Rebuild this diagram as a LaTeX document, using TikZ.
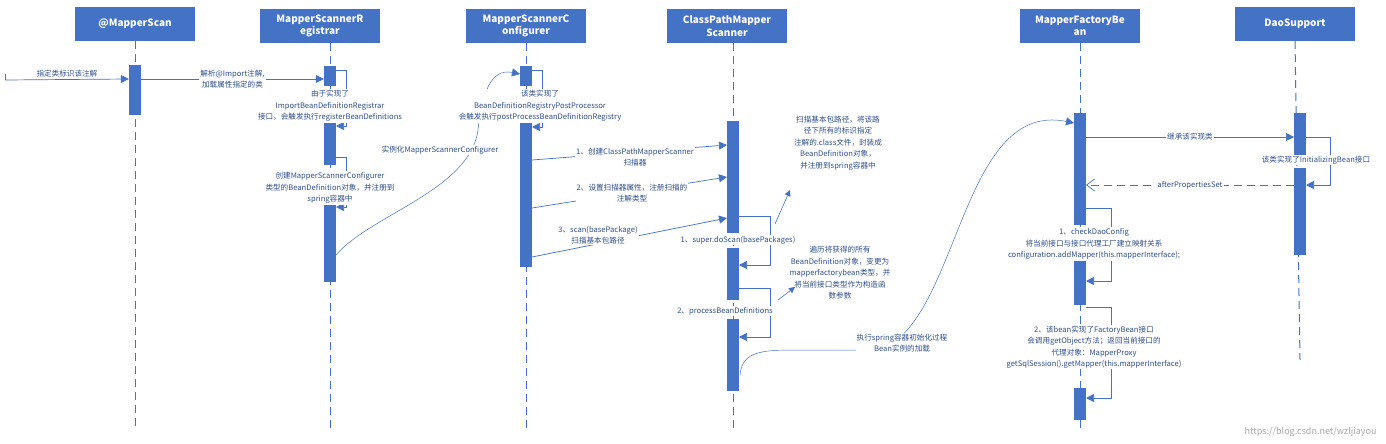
\documentclass[tikz,border=0pt]{standalone}
\usepackage{fontspec}
\setmainfont{Noto Sans CJK SC}
\usetikzlibrary{arrows.meta,positioning}
\definecolor{hdblue}{HTML}{4472C4}
\definecolor{txblue}{HTML}{2E4E8C}
\tikzset{
  head/.style={fill=hdblue,text=white,font=\fontsize{10}{12.5}\selectfont\bfseries,
    minimum width=120pt,minimum height=34pt,align=center,inner sep=1pt},
  life/.style={hdblue,dash pattern=on 8pt off 5pt,line width=1pt},
  act/.style={fill=hdblue,draw=none,minimum width=12pt,inner sep=0pt,anchor=north},
  msg/.style={hdblue,line width=0.7pt,-{Triangle[length=8pt,width=8pt]}},
  ret/.style={hdblue,line width=0.7pt,dash pattern=on 8pt off 5pt,-{Straight Barb[length=8pt,width=12pt]}},
  lbl/.style={text=txblue,font=\fontsize{7.6}{11.5}\selectfont,align=center,inner sep=1pt},
  bglbl/.style={lbl,fill=white},
  nt/.style={hdblue,line width=0.6pt,-{Triangle[length=6pt,width=6pt]}}
}
\begin{document}
\begin{tikzpicture}[x=1pt,y=-1pt]
\useasboundingbox (0,0) rectangle (1386,444);

% headers and lifelines
\node[head] (hscan) at (135,24) {@MapperScan};
\node[head] (hreg) at (320,26) {MapperScannerR\\egistrar};
\node[head] (hconf) at (526,26) {MapperScannerC\\onfigurer};
\node[head] (hcp) at (727,26) {ClassPathMapper\\Scanner};
\node[head] (hmfb) at (1080,26) {MapperFactoryBe\\an};
\node[head] (hdao) at (1295,24) {DaoSupport};
\draw[life] (hscan.south) -- (135,430);
\draw[life] (hreg.south -| 330,0) -- (330,430);
\draw[life] (hconf.south -| 526,0) -- (526,430);
\draw[life] (hcp.south -| 733,0) -- (733,430);
\draw[life] (hmfb.south -| 1080,0) -- (1080,430);
\draw[life] (hdao.south) -- (1300,360);

% activation bars
\node[act,minimum height=50pt] (a1) at (135,65) {};
\node[act,minimum height=20pt] (r1) at (330,66) {};
\node[act,minimum height=50pt] (r2) at (330,115) {};
\node[act,minimum height=85pt] (r3) at (330,197) {};
\node[act,minimum height=20pt] (c1) at (526,66) {};
\node[act,minimum height=152pt] (c2) at (526,115) {};
\node[act,minimum height=112pt] (s1) at (733,121) {};
\node[act,minimum height=52pt] (s2) at (733,248) {};
\node[act,minimum height=72pt] (s3) at (733,319) {};
\node[act,minimum height=112pt] (m1) at (1080,113) {};
\node[act,minimum height=58pt] (m2) at (1080,247) {};
\node[act,minimum height=32pt] (m3) at (1080,388) {};
\node[act,minimum height=42pt] (d1) at (1300,113) {};
\node[act,minimum height=87pt] (d2) at (1300,168) {};

% @MapperScan
\coordinate (start) at (5,80);
\draw[hdblue,line width=0.7pt] (5,74) -- (start);
\draw[msg] (start) -- node[lbl,above=1pt] {指定类标识该注解} (a1.north west |- 0,79);
\draw[msg] (a1.north east |- 0,79) -- node[bglbl] {解析@Import注解,\\加载属性指定的类} (r1.west |- 0,79);

% Registrar
\draw[msg] (336,70) -- (346,70) -- (346,126) -- (336,126);
\node[bglbl] (t1) at (330,106) {由于实现了\\ImportBeanDefinitionRegistrar\\接口，会触发执行registerBeanDefinitions};
\draw[msg] (336,157) -- (346,157) -- (346,207) -- (336,207);
\node[bglbl] (t2) at (330,188) {创建MapperScannerConfigurer\\类型的BeanDefinition对象，并注册到\\spring容器中};
\draw[hdblue,line width=0.5pt,-{Triangle[length=8pt,width=8pt]}] (336,255) .. controls (370,215) and (470,190) .. (478,130)
  .. controls (482,95) and (490,68) .. (520,74);
\node[bglbl] (t3) at (440,150) {实例化MapperScannerConfigurer};

% Configurer
\draw[msg] (532,70) -- (542,70) -- (542,127) -- (532,127);
\node[bglbl] (t4) at (540,106) {该类实现了\\BeanDefinitionRegistryPostProcessor\\会触发执行postProcessBeanDefinitionRegistry};
\draw[msg] (532,160) -- (727,145);
\node[bglbl] (t5) at (635,157) {1、创建ClassPathMapperScanner\\扫描器};
\draw[msg] (532,208) -- (727,177);
\node[bglbl] (t6) at (632,193) {2、设置扫描器属性，注册扫描的\\注解类型};
\draw[msg] (532,257) -- (727,218);
\node[bglbl] (t7) at (598,235) {3、scan(basePackage)\\扫描基本包路径};

% ClassPathMapperScanner
\draw[msg] (739,216) -- (770,216) -- (770,265) -- (739,265);
\node[bglbl] (t8) at (738,240) {1、super.doScan(basePackages)};
\draw[msg] (739,288) -- (770,288) -- (770,337) -- (739,337);
\node[bglbl] (t9) at (725,311) {2、processBeanDefinitions};
\node[lbl] (n1) at (838,143) {扫描基本包路径，将该路\\径下所有的标识指定\\注解的.class文件，封装成\\BeanDefinition对象，\\并注册到spring容器中};
\draw[nt] (775,224) -- (790,190);
\node[lbl] (n2) at (840,273) {遍历将获得的所有\\BeanDefinition对象，变更为\\mapperfactorybean类型，并\\将当前接口类型作为构造函\\数参数};
\draw[nt] (778,300) -- (795,287);
\draw[hdblue,line width=0.5pt,-{Triangle[length=8pt,width=8pt]}] (740,375) .. controls (742,355) and (755,350) .. (790,350)
  -- (880,350) .. controls (960,320) and (960,100) .. (1074,123);
\node[bglbl] (t10) at (902,343) {执行spring容器初始化过程\\Bean实例的加载};

% MapperFactoryBean / DaoSupport
\draw[msg] (1086,137) -- node[bglbl] {继承该实现类} (1294,137);
\draw[msg] (1306,137) -- (1330,137) -- (1330,185) -- (1306,185);
\node[bglbl] (t11) at (1316,160) {该类实现了InitializingBean接口};
\draw[ret] (1294,185) -- node[bglbl] {afterPropertiesSet} (1086,185);
\draw[msg] (1086,208) -- (1111,208) -- (1111,281) -- (1086,281);
\node[bglbl] (t12) at (1094,244) {1、checkDaoConfig\\将当前接口与接口代理工厂建立映射关系\\configuration.addMapper(this.mapperInterface);};
\draw[msg] (1086,307) -- (1111,307) -- (1111,398) -- (1086,398);
\node[bglbl] (t13) at (1094,347) {2、该bean实现了FactoryBean接口\\会调用getObject方法；返回当前接口的\\代理对象：MapperProxy\\getSqlSession().getMapper(this.mapperInterface)};

\node[text=gray!70,font=\fontsize{9}{11}\selectfont,anchor=south east] (wm) at (1380,440) {https://blog.csdn.net/wzljiayou};
\end{tikzpicture}
\end{document}
